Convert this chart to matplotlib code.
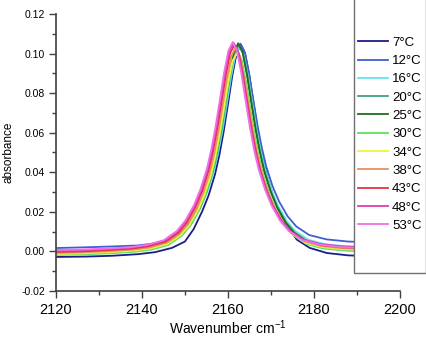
import matplotlib
matplotlib.use("Agg")
import matplotlib.pyplot as plt
from matplotlib.patches import Rectangle

plt.rcParams['font.family'] = ['Liberation Sans', 'DejaVu Sans']
plt.rcParams['mathtext.fontset'] = 'custom'
plt.rcParams['mathtext.rm'] = 'Liberation Sans'
plt.rcParams['axes.unicode_minus'] = False

# temperatures (legend order)
labels = ['7°C', '12°C', '16°C', '20°C', '25°C', '30°C', '34°C', '38°C', '43°C', '48°C', '53°C']
colors = ['#1c1c8a', '#3f5fd0', '#66e6e6', '#40a080', '#1f6b1f', '#5fe05f',
          '#f2f240', '#e8905a', '#e8304a', '#e03cb0', '#f070e8']

# spectra (wavenumber, absorbance)
x_7 = [2120, 2127, 2133, 2139, 2143, 2147, 2150, 2152, 2154, 2155.5, 2157, 2158, 2159, 2160, 2161, 2162,
       2163, 2164, 2165, 2166, 2167, 2168, 2169, 2170.5, 2172, 2174, 2176, 2179, 2183, 2188, 2196]
y_7 = [-0.0028, -0.0026, -0.0022, -0.0014, -0.0004, 0.0018, 0.0050, 0.0112, 0.0202, 0.0283, 0.0390, 0.0486,
       0.0605, 0.0743, 0.0886, 0.1000, 0.1045, 0.1000, 0.0886, 0.0743, 0.0605, 0.0486, 0.0390, 0.0283,
       0.0202, 0.0123, 0.0060, 0.0018, -0.0008, -0.0020, -0.0026]

x_12 = [2119.9, 2126.9, 2132.9, 2138.9, 2142.9, 2146.9, 2149.9, 2151.9, 2153.9, 2155.4, 2156.9, 2157.9,
        2158.9, 2159.9, 2160.9, 2161.9, 2162.9, 2163.9, 2164.9, 2165.9, 2166.9, 2167.9, 2168.9, 2170.4,
        2171.9, 2173.9, 2175.9, 2178.9, 2182.9, 2187.9, 2195.9]
y_12 = [0.0017, 0.0021, 0.0025, 0.0030, 0.0040, 0.0062, 0.0118, 0.0170, 0.0246, 0.0325, 0.0425, 0.0518,
        0.0630, 0.0762, 0.0898, 0.1007, 0.1050, 0.1008, 0.0900, 0.0765, 0.0634, 0.0522, 0.0430, 0.0328,
        0.0252, 0.0177, 0.0126, 0.0083, 0.0061, 0.0050, 0.0045]

x_16 = [2119.7, 2126.7, 2132.7, 2138.7, 2142.7, 2146.7, 2149.7, 2151.7, 2153.7, 2155.2, 2156.7, 2157.7,
        2158.7, 2159.7, 2160.7, 2161.7, 2162.7, 2163.7, 2164.7, 2165.7, 2166.7, 2167.7, 2168.7, 2170.2,
        2171.7, 2173.7, 2175.7, 2178.7, 2182.7, 2187.7, 2195.7]
y_16 = [-0.0008, -0.0004, 0.0002, 0.0011, 0.0023, 0.0049, 0.0094, 0.0146, 0.0223, 0.0302, 0.0405, 0.0498,
        0.0611, 0.0744, 0.0882, 0.0991, 0.1035, 0.0993, 0.0884, 0.0747, 0.0614, 0.0502, 0.0409, 0.0306,
        0.0229, 0.0153, 0.0102, 0.0059, 0.0036, 0.0025, 0.0020]

x_20 = [2119.5, 2126.5, 2132.5, 2138.5, 2142.5, 2146.5, 2149.5, 2151.5, 2153.5, 2155.0, 2156.5, 2157.5,
        2158.5, 2159.5, 2160.5, 2161.5, 2162.5, 2163.5, 2164.5, 2165.5, 2166.5, 2167.5, 2168.5, 2170.0,
        2171.5, 2173.5, 2175.5, 2178.5, 2182.5, 2187.5, 2195.5]
y_20 = [-0.0013, -0.0009, -0.0004, 0.0005, 0.0017, 0.0042, 0.0089, 0.0141, 0.0220, 0.0300, 0.0404, 0.0499,
        0.0614, 0.0749, 0.0889, 0.1000, 0.1045, 0.1001, 0.0891, 0.0752, 0.0617, 0.0501, 0.0407, 0.0303,
        0.0225, 0.0147, 0.0096, 0.0051, 0.0028, 0.0016, 0.0010]

x_25 = [2119.4, 2126.4, 2132.4, 2138.4, 2142.4, 2146.4, 2149.4, 2151.4, 2153.4, 2154.9, 2156.4, 2157.4,
        2158.4, 2159.4, 2160.4, 2161.4, 2162.4, 2163.4, 2164.4, 2165.4, 2166.4, 2167.4, 2168.4, 2169.9,
        2171.4, 2173.4, 2175.4, 2178.4, 2182.4, 2187.4, 2195.4]
y_25 = [-0.0008, -0.0005, 0.0000, 0.0008, 0.0019, 0.0045, 0.0090, 0.0143, 0.0221, 0.0302, 0.0407, 0.0502,
        0.0619, 0.0755, 0.0896, 0.1008, 0.1052, 0.1008, 0.0896, 0.0756, 0.0620, 0.0503, 0.0408, 0.0304,
        0.0224, 0.0146, 0.0093, 0.0049, 0.0024, 0.0012, 0.0006]

x_30 = [2119.2, 2126.2, 2132.2, 2138.2, 2142.2, 2146.2, 2149.2, 2151.2, 2153.2, 2154.7, 2156.2, 2157.2,
        2158.2, 2159.2, 2160.2, 2161.2, 2162.2, 2163.2, 2164.2, 2165.2, 2166.2, 2167.2, 2168.2, 2169.7,
        2171.2, 2173.2, 2175.2, 2178.2, 2182.2, 2187.2, 2195.2]
y_30 = [-0.0018, -0.0015, -0.0010, -0.0002, 0.0009, 0.0033, 0.0078, 0.0129, 0.0205, 0.0284, 0.0385, 0.0477,
        0.0590, 0.0722, 0.0858, 0.0967, 0.1010, 0.0967, 0.0859, 0.0723, 0.0591, 0.0478, 0.0386, 0.0285,
        0.0208, 0.0133, 0.0082, 0.0038, 0.0015, 0.0004, -0.0003]

x_34 = [2119, 2126, 2132, 2138, 2142, 2146, 2149, 2151, 2153, 2154.5, 2156, 2157, 2158, 2159, 2160, 2161,
        2162, 2163, 2164, 2165, 2166, 2167, 2168, 2169.5, 2171, 2173, 2175, 2178, 2182, 2187, 2195]
y_34 = [-0.0013, -0.0010, -0.0004, 0.0004, 0.0015, 0.0038, 0.0083, 0.0133, 0.0208, 0.0285, 0.0385, 0.0476,
        0.0587, 0.0717, 0.0851, 0.0958, 0.1000, 0.0958, 0.0851, 0.0718, 0.0588, 0.0477, 0.0387, 0.0288,
        0.0212, 0.0138, 0.0088, 0.0045, 0.0022, 0.0011, 0.0005]

x_38 = [2118.8, 2125.8, 2131.8, 2137.8, 2141.8, 2145.8, 2148.8, 2150.8, 2152.8, 2154.3, 2155.8, 2156.8,
        2157.8, 2158.8, 2159.8, 2160.8, 2161.8, 2162.8, 2163.8, 2164.8, 2165.8, 2166.8, 2167.8, 2169.3,
        2170.8, 2172.8, 2174.8, 2177.8, 2181.8, 2186.8, 2194.8]
y_38 = [-0.0008, -0.0005, 0.0001, 0.0009, 0.0020, 0.0045, 0.0090, 0.0142, 0.0219, 0.0298, 0.0400, 0.0493,
        0.0607, 0.0740, 0.0877, 0.0987, 0.1030, 0.0987, 0.0878, 0.0741, 0.0608, 0.0495, 0.0403, 0.0301,
        0.0222, 0.0147, 0.0095, 0.0052, 0.0027, 0.0016, 0.0010]

x_43 = [2118.5, 2125.5, 2131.5, 2137.5, 2141.5, 2145.5, 2148.5, 2150.5, 2152.5, 2154.0, 2155.5, 2156.5,
        2157.5, 2158.5, 2159.5, 2160.5, 2161.5, 2162.5, 2163.5, 2164.5, 2165.5, 2166.5, 2167.5, 2169.0,
        2170.5, 2172.5, 2174.5, 2177.5, 2181.5, 2186.5, 2194.5]
y_43 = [-0.0003, 0.0000, 0.0006, 0.0014, 0.0026, 0.0050, 0.0096, 0.0148, 0.0226, 0.0305, 0.0409, 0.0503,
        0.0618, 0.0752, 0.0890, 0.1001, 0.1045, 0.1002, 0.0891, 0.0754, 0.0619, 0.0505, 0.0411, 0.0308,
        0.0229, 0.0153, 0.0101, 0.0057, 0.0033, 0.0021, 0.0015]

x_48 = [2118.3, 2125.3, 2131.3, 2137.3, 2141.3, 2145.3, 2148.3, 2150.3, 2152.3, 2153.8, 2155.3, 2156.3,
        2157.3, 2158.3, 2159.3, 2160.3, 2161.3, 2162.3, 2163.3, 2164.3, 2165.3, 2166.3, 2167.3, 2168.8,
        2170.3, 2172.3, 2174.3, 2177.3, 2181.3, 2186.3, 2194.3]
y_48 = [0.0002, 0.0005, 0.0011, 0.0019, 0.0031, 0.0055, 0.0101, 0.0154, 0.0232, 0.0312, 0.0416, 0.0510,
        0.0626, 0.0761, 0.0900, 0.1011, 0.1055, 0.1012, 0.0901, 0.0762, 0.0627, 0.0512, 0.0418, 0.0314,
        0.0235, 0.0159, 0.0106, 0.0062, 0.0038, 0.0026, 0.0020]

x_53 = [2118.1, 2125.1, 2131.1, 2137.1, 2141.1, 2145.1, 2148.1, 2150.1, 2152.1, 2153.6, 2155.1, 2156.1,
        2157.1, 2158.1, 2159.1, 2160.1, 2161.1, 2162.1, 2163.1, 2164.1, 2165.1, 2166.1, 2167.1, 2168.6,
        2170.1, 2172.1, 2174.1, 2177.1, 2181.1, 2186.1, 2194.1]
y_53 = [0.0007, 0.0009, 0.0014, 0.0021, 0.0033, 0.0057, 0.0103, 0.0156, 0.0234, 0.0314, 0.0418, 0.0512,
        0.0628, 0.0763, 0.0903, 0.1014, 0.1058, 0.1014, 0.0903, 0.0763, 0.0628, 0.0512, 0.0418, 0.0314,
        0.0234, 0.0156, 0.0104, 0.0059, 0.0035, 0.0022, 0.0015]

xs = [x_7, x_12, x_16, x_20, x_25, x_30, x_34, x_38, x_43, x_48, x_53]
ys = [y_7, y_12, y_16, y_20, y_25, y_30, y_34, y_38, y_43, y_48, y_53]

fig = plt.figure(figsize=(4.27, 3.39), dpi=100)
ax = fig.add_axes([0.131, 0.1416, 0.8056, 0.8171])

handles = []
for x, y, c, lab in zip(xs, ys, colors, labels):
    h, = ax.plot(x, y, color=c, lw=1.3, label=lab)
    handles.append(h)

ax.set_xlim(2120, 2200)
ax.set_ylim(-0.02, 0.12)
ax.set_xticks([2120, 2140, 2160, 2180, 2200])
ax.set_xticks([2130, 2150, 2170, 2190], minor=True)
ax.set_yticks([-0.02, 0.00, 0.02, 0.04, 0.06, 0.08, 0.10, 0.12])
ax.set_yticks([-0.01, 0.01, 0.03, 0.05, 0.07, 0.09, 0.11], minor=True)
ax.set_yticklabels(['%.2f' % v for v in ax.get_yticks()])

for side in ['top', 'right']:
    ax.spines[side].set_visible(False)
for side in ['left', 'bottom']:
    ax.spines[side].set_color('#404040')
    ax.spines[side].set_linewidth(1.2)

ax.tick_params(which='both', direction='out', color='#404040', width=1.0)
ax.tick_params(which='major', length=5)
ax.tick_params(which='minor', length=3)
ax.tick_params(axis='x', labelsize=10.5, pad=4)
ax.tick_params(axis='y', labelsize=7.5, pad=3)

ax.set_xlabel('Wavenumber cm$^{\\mathrm{-1}}$', fontsize=10, labelpad=1)
ax.set_ylabel('absorbance', fontsize=8.5, labelpad=5)

# legend box sits on top of the plot, like the original
box = Rectangle((0.829, 0.195), 0.169, 0.81, transform=fig.transFigure,
                facecolor='white', edgecolor='#707070', lw=1.0, zorder=10)
fig.add_artist(box)
leg = fig.legend(handles=handles, loc='upper left', bbox_to_anchor=(0.838, 0.892),
                 frameon=False, fontsize=9.5, handlelength=2.3, handletextpad=0.3,
                 labelspacing=0.46, borderpad=0, borderaxespad=0)
leg.set_zorder(11)

fig.savefig('out.png', dpi=100)
